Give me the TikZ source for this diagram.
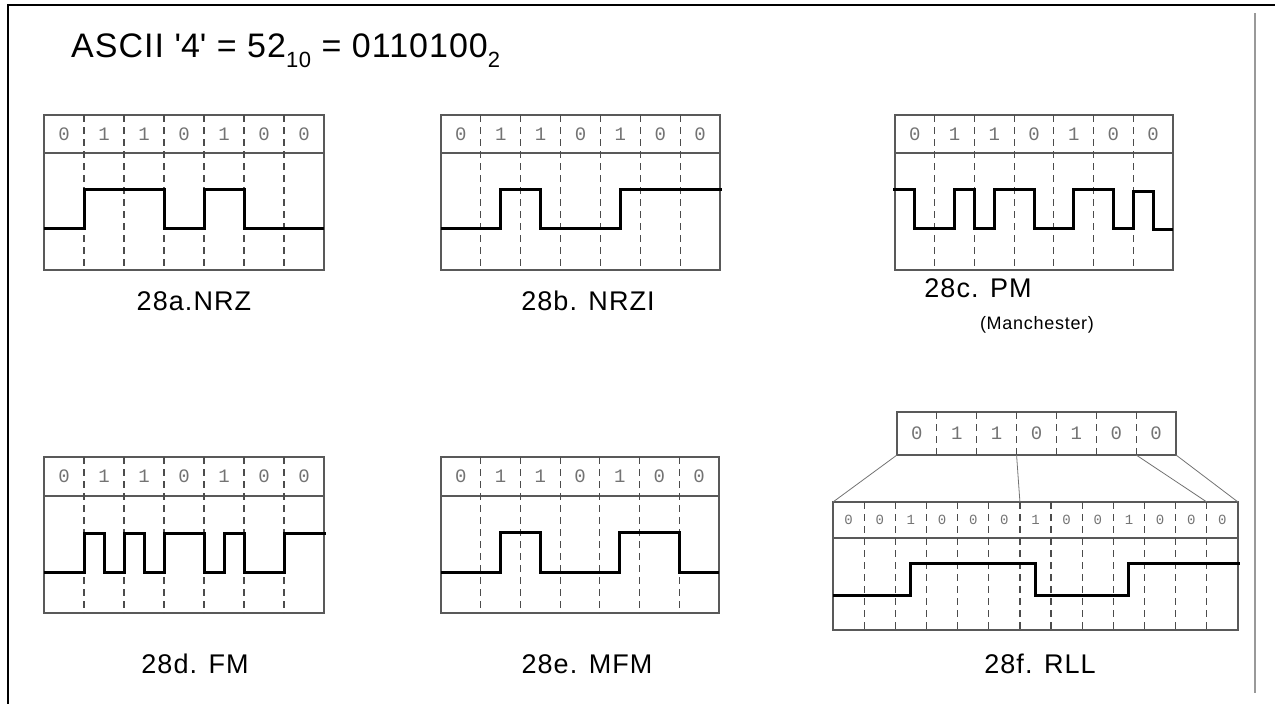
\documentclass[tikz,border=0pt]{standalone}
\usepackage{fontspec}
\setmainfont{Liberation Sans}
\newfontfamily\digitfont{Liberation Mono}
\newfontfamily\lblfont[LetterSpace=4]{Liberation Sans}
\newfontfamily\ttlfont[LetterSpace=3]{Liberation Sans}
\newcommand\subnum[1]{\raisebox{-0.3em}{\fontsize{22}{22}\selectfont #1}}
\tikzset{
  boxline/.style={draw=black!65, line width=1.2pt},
  divline/.style={draw=black!70, line width=1.2pt, dash pattern=on 7pt off 5pt},
  sigline/.style={draw=black, line width=3pt},
  digit/.style={font={\digitfont\fontsize{19}{19}\selectfont}, text=black!55, inner sep=0pt},
  smalldigit/.style={font={\digitfont\fontsize{14}{14}\selectfont}, text=black!55, inner sep=0pt},
  lbl/.style={font={\lblfont\fontsize{27}{27}\selectfont}, inner sep=0pt, anchor=base},
  sublbl/.style={font={\lblfont\fontsize{18}{18}\selectfont}, inner sep=0pt, anchor=base},
  link/.style={draw=black!55, line width=0.8pt}
}
% #1 prefix, #2 x0, #3 colw, #4 top, #5 header bottom, #6 bottom, #7 ncols, #8 bits, #9 digit style
\newcommand\drawpanel[9]{%
  \begin{scope}[shift={(#2,0)}, x=#3pt]
    \draw[boxline] (0,#4) rectangle (#7,#6);
    \draw[boxline] (0,#5) -- (#7,#5);
    \pgfmathtruncatemacro\lastdiv{#7-1}
    \foreach \i in {1,...,\lastdiv} \draw[divline] (\i,#4) -- (\i,#6);
    \foreach \d [count=\i] in {#8} \node[#9] (#1-\i) at (\i-0.5,{(#4+#5)/2}) {\d};
  \end{scope}}
\begin{document}
\begin{tikzpicture}[x=1pt,y=-1pt]
\useasboundingbox (0,0) rectangle (1275,704);
% frame
\draw[line width=2pt] (8,704) -- (8,5) -- (1275,5);
\draw[black!40, line width=2pt] (1255,13) -- (1255,693);
% title
\node[font={\ttlfont\fontsize{34}{34}\selectfont}, anchor=base west, inner sep=0pt] (title) at (71,57)
  {ASCII \textquotesingle 4\textquotesingle{} = 52\subnum{10} = 0110100\subnum{2}};
% panels
\drawpanel{a}{44}{40}{115}{153}{270}{7}{0,1,1,0,1,0,0}{digit}
\drawpanel{b}{441}{39.857}{115}{153}{270}{7}{0,1,1,0,1,0,0}{digit}
\drawpanel{c}{895}{39.714}{115}{153}{270}{7}{0,1,1,0,1,0,0}{digit}
\drawpanel{d}{44}{40}{457}{496}{613}{7}{0,1,1,0,1,0,0}{digit}
\drawpanel{e}{441}{39.714}{457}{496}{613}{7}{0,1,1,0,1,0,0}{digit}
\drawpanel{ft}{897}{39.857}{412}{455}{455}{7}{0,1,1,0,1,0,0}{digit}
\drawpanel{fl}{833}{31.154}{502}{538}{630}{13}{0,0,1,0,0,0,1,0,0,1,0,0,0}{smalldigit}
% signals
\begin{scope}[shift={(44,0)}, x=40pt]
  \draw[sigline] (0,228) -| (1,189) -| (3,228) -| (4,189) -| (5,228) -- (7,228);
\end{scope}
\begin{scope}[shift={(441,0)}, x=39.857pt]
  \draw[sigline] (0,228) -| (1.5,189) -| (2.5,228) -| (4.5,189) -- (7.05,189);
\end{scope}
\begin{scope}[shift={(895,0)}, x=39.714pt]
  \draw[sigline] (-0.05,189) -| (0.5,228) -| (1.5,189) -| (2,228) -| (2.5,189) -| (3.5,228)
     -| (4.5,189) -| (5.5,228) -| (6,191) -| (6.5,229) -- (7,229);
\end{scope}
\begin{scope}[shift={(44,0)}, x=40pt]
  \draw[sigline] (0,572) -| (1,533) -| (1.5,572) -| (2,533) -| (2.5,572) -| (3,533) -| (4,572)
     -| (4.5,533) -| (5,572) -| (6,533) -- (7.05,533);
\end{scope}
\begin{scope}[shift={(441,0)}, x=39.714pt]
  \draw[sigline] (0,572) -| (1.5,532) -| (2.5,572) -| (4.5,532) -| (6,572) -- (7,572);
\end{scope}
\begin{scope}[shift={(833,0)}, x=31.154pt]
  \draw[sigline] (0,595) -| (2.5,563) -| (6.5,595) -| (9.5,563) -- (13.05,563);
\end{scope}
% RLL mapping connectors
\begin{scope}[shift={(897,0)}, x=39.857pt]
  \coordinate (ftop-0) at (0,455);
  \coordinate (ftop-3) at (3,455);
  \coordinate (ftop-6) at (6,455);
  \coordinate (ftop-7) at (7,455);
\end{scope}
\begin{scope}[shift={(833,0)}, x=31.154pt]
  \coordinate (flow-0) at (0,502);
  \coordinate (flow-6) at (6,502);
  \coordinate (flow-12) at (12,502);
  \coordinate (flow-13) at (13,502);
\end{scope}
\draw[link] (ftop-0) -- (flow-0);
\draw[link] (ftop-3) -- (flow-6);
\draw[link] (ftop-6) -- (flow-12);
\draw[link] (ftop-7) -- (flow-13);
% labels
\node[lbl] (la) at (194,310) {28a.NRZ};
\node[lbl] (lb) at (588,310) {28b. NRZI};
\node[lbl] (lc) at (978,297) {28c. PM};
\node[sublbl] (lc2) at (1037,329) {(Manchester)};
\node[lbl] (ld) at (195,673) {28d. FM};
\node[lbl] (le) at (587,673) {28e. MFM};
\node[lbl] (lf) at (1040,673) {28f. RLL};
\end{tikzpicture}
\end{document}
